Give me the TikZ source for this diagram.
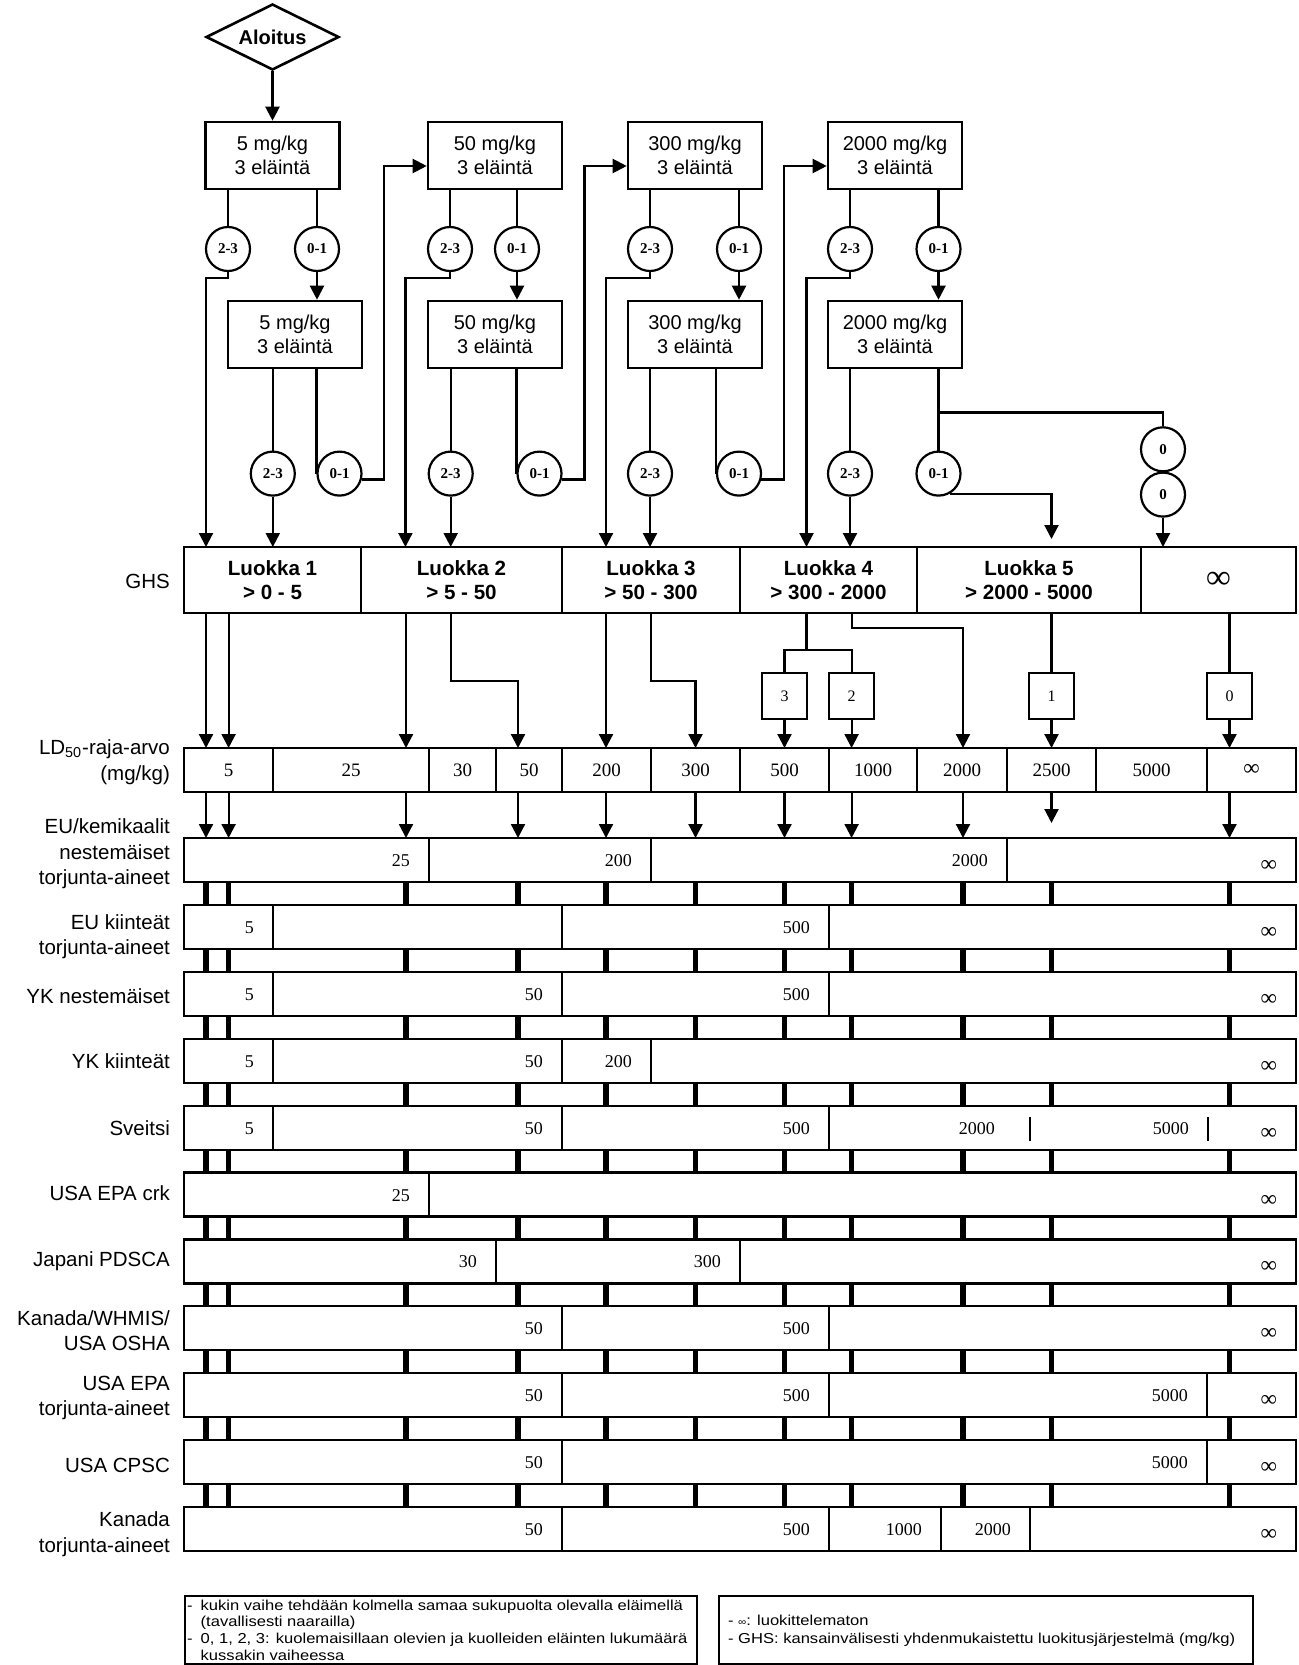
\documentclass[tikz,border=0pt]{standalone}
\usepackage{fontspec}
\usepackage{graphicx}
\setmainfont{Liberation Sans}
\newfontfamily\tnr{Liberation Serif}
\newfontfamily\legfont[FakeStretch=1.15]{Liberation Sans}
\usetikzlibrary{arrows.meta,shapes.geometric,calc}
\newcommand\infsym{\raisebox{-2.5pt}{\fontsize{11.5}{12}\selectfont ∞}}
\newcommand\rseg[5]{%
  \node[segbox,minimum width={(#3-#2)*0.5pt},anchor=north west] (#1) at (#2,#4) {};
  \node[valtext,anchor=base east] (#1v) at ($(#1.east)+(-18,6.5)$) {#5};}
\newcommand\rsegE[4]{%
  \node[segbox,minimum width={(#3-#2)*0.5pt},anchor=north west] (#1) at (#2,#4) {};}
\newcommand\gcell[7]{%
  \node[cellbox,#7,minimum width={(#3-#2)*0.5pt},minimum height={(#5-#4)*0.5pt},anchor=north west] (#1) at (#2,#4) {#6};}
\begin{document}
\begin{tikzpicture}[x=0.5pt,y=-0.5pt,line width=1.1pt,
  arr/.style={-{Triangle[length=7pt,width=7pt]}},
  stepbox/.style={draw,line width=1.3pt,minimum width=67pt,minimum height=33.5pt,inner sep=0pt,align=center,font=\fontsize{10}{12}\selectfont},
  cnt/.style={draw,circle,line width=1.1pt,minimum size=22pt,inner sep=0pt,font=\tnr\bfseries\fontsize{7.5}{8}\selectfont},
  cellbox/.style={draw,line width=1.3pt,inner sep=0pt,outer sep=0pt,align=center},
  ghsfont/.style={font=\bfseries\fontsize{10.3}{11.8}\selectfont},
  ldfont/.style={font=\tnr\fontsize{9.5}{10}\selectfont},
  segbox/.style={draw,line width=1.1pt,minimum height=22pt,inner sep=0pt,outer sep=0pt},
  valtext/.style={inner sep=0pt,font=\tnr\fontsize{9}{10}\selectfont},
  rowlab/.style={anchor=east,align=right,inner sep=0pt,font=\fontsize{10.25}{12.75}\selectfont},
  smallbox/.style={draw,line width=1.1pt,minimum width=22.75pt,minimum height=23pt,inner sep=0pt,font=\tnr\fontsize{8}{9}\selectfont},
  stub/.style={line width=2.6pt},
  legtext/.style={inner sep=0pt,align=left,font=\legfont\fontsize{7.2}{8.3}\selectfont}
]
\useasboundingbox (0,0) rectangle (1299,1665);

% ---------- flow chart ----------
\node[diamond,draw,line width=1.3pt,aspect=2,minimum width=66.5pt,minimum height=33pt,inner sep=0pt,font=\bfseries\fontsize{10}{12}\selectfont] (start) at (272.5,37) {Aloitus};

\node[stepbox] (b1) at (272.5,155.5) {5 mg/kg\\3 eläintä};
\node[stepbox] (b2) at (495,155.5) {50 mg/kg\\3 eläintä};
\node[stepbox] (b3) at (695,155.5) {300 mg/kg\\3 eläintä};
\node[stepbox] (b4) at (895,155.5) {2000 mg/kg\\3 eläintä};
\node[stepbox] (b1b) at (295,334.5) {5 mg/kg\\3 eläintä};
\node[stepbox] (b2b) at (495,334.5) {50 mg/kg\\3 eläintä};
\node[stepbox] (b3b) at (695,334.5) {300 mg/kg\\3 eläintä};
\node[stepbox] (b4b) at (895,334.5) {2000 mg/kg\\3 eläintä};

\node[cnt] (a1) at (228,249) {2-3};
\node[cnt] (z1) at (317,249) {0-1};
\node[cnt] (a2) at (450,249) {2-3};
\node[cnt] (z2) at (517,249) {0-1};
\node[cnt] (a3) at (650,249) {2-3};
\node[cnt] (z3) at (739,249) {0-1};
\node[cnt] (a4) at (850,249) {2-3};
\node[cnt] (z4) at (938.5,249) {0-1};

\node[cnt] (A1) at (272.8,473.6) {2-3};
\node[cnt] (Z1) at (339.5,473.6) {0-1};
\node[cnt] (A2) at (450.7,473.6) {2-3};
\node[cnt] (Z2) at (539.5,473.6) {0-1};
\node[cnt] (A3) at (650,473.6) {2-3};
\node[cnt] (Z3) at (739,473.6) {0-1};
\node[cnt] (A4) at (850,473.6) {2-3};
\node[cnt] (Z4) at (938.5,473.6) {0-1};
\node[cnt] (o1) at (1163,449.3) {0};
\node[cnt] (o2) at (1163,494.6) {0};

% ---------- GHS row ----------
\gcell{g1}{184}{361}{547}{613}{Luokka 1\\> 0 - 5}{ghsfont}
\gcell{g2}{361}{562}{547}{613}{Luokka 2\\> 5 - 50}{ghsfont}
\gcell{g3}{562}{740}{547}{613}{Luokka 3\\> 50 - 300}{ghsfont}
\gcell{g4}{740}{917}{547}{613}{Luokka 4\\> 300 - 2000}{ghsfont}
\gcell{g5}{917}{1141}{547}{613}{Luokka 5\\> 2000 - 5000}{ghsfont}
\gcell{g6}{1141}{1296}{547}{613}{\raisebox{-1.5pt}{\tnr\bfseries\fontsize{17}{18}\selectfont ∞}}{}
\node[rowlab] (ghslab) at (171,581) {GHS};

% connectors top part
\draw[arr] (start.south) -- (b1.north);
\foreach \b/\a/\z in {b1/a1/z1,b2/a2/z2,b3/a3/z3,b4/a4/z4}{
  \draw (\b.south -| \a) -- (\a.north);
  \draw (\b.south -| \z) -- (\z.north);
  \draw[arr] (\z.south) -- (\z.south |- \b b.north);
}
\draw[arr] (a1.south) |- (206,278) -- (206,0 |- g1.north);
\draw[arr] (a2.south) |- (405.4,278) -- (405.4,0 |- g2.north);
\draw[arr] (a3.south) |- (606,278) -- (606,0 |- g3.north);
\draw[arr] (a4.south) |- (806.5,278) -- (806.5,0 |- g4.north);

\draw (b1b.south -| A1) -- (A1.north);
\draw (b2b.south -| A2) -- (A2.north);
\draw (b3b.south -| A3) -- (A3.north);
\draw (b4b.south -| A4) -- (A4.north);
\draw (b1b.south -| Z1.west) -- (Z1.west);
\draw (b2b.south -| Z2.west) -- (Z2.west);
\draw (b3b.south -| Z3.west) -- (Z3.west);
\draw (b4b.south -| Z4) -- (Z4.north);
\draw[arr] (A1.south) -- (A1.south |- g1.north);
\draw[arr] (A2.south) -- (A2.south |- g2.north);
\draw[arr] (A3.south) -- (A3.south |- g3.north);
\draw[arr] (A4.south) -- (A4.south |- g4.north);
\draw[arr] (Z1.-15) -| (384,166) -- (b2.west |- 0,166);
\draw[arr] (Z2.-15) -| (584.4,166) -- (b3.west |- 0,166);
\draw[arr] (Z3.-15) -| (783.7,166) -- (b4.west |- 0,166);
\draw (Z4.north |- 0,412.5) -| (o1.north);
\draw (o1.south) -- (o2.north);
\draw[arr] (o2.south) -- (o2.south |- g6.north);
\draw[arr] (Z4.-60) -| (1051.5,539);

% ---------- LD50 row ----------
\gcell{l1}{184}{273}{748}{792}{5}{ldfont}
\gcell{l2}{273}{429}{748}{792}{25}{ldfont}
\gcell{l3}{429}{496}{748}{792}{30}{ldfont}
\gcell{l4}{496}{562}{748}{792}{50}{ldfont}
\gcell{l5}{562}{651}{748}{792}{200}{ldfont}
\gcell{l6}{651}{740}{748}{792}{300}{ldfont}
\gcell{l7}{740}{829}{748}{792}{500}{ldfont}
\gcell{l8}{829}{917}{748}{792}{1000}{ldfont}
\gcell{l9}{917}{1007}{748}{792}{2000}{ldfont}
\gcell{l10}{1007}{1096}{748}{792}{2500}{ldfont}
\gcell{l11}{1096}{1207}{748}{792}{5000}{ldfont}
\gcell{l12}{1207}{1296}{748}{792}{\raisebox{-1pt}{\infsym}}{ldfont}
\node[rowlab] (ldlab) at (171,762) {LD\textsubscript{50}-raja-arvo\\(mg/kg)};

\node[smallbox] (n3) at (784.5,696.3) {3};
\node[smallbox] (n2) at (851.6,696.3) {2};
\node[smallbox] (n1) at (1051.5,696.3) {1};
\node[smallbox] (n0) at (1229.5,696.3) {0};

% GHS -> LD50
\draw[arr] (206,0 |- g1.south) -- (206,0 |- l1.north);
\draw[arr] (228.6,0 |- g1.south) -- (228.6,0 |- l1.north);
\draw[arr] (406,0 |- g2.south) -- (406,0 |- l2.north);
\draw[arr] (451,0 |- g2.south) |- (518,680.7) -- (518,0 |- l4.north);
\draw[arr] (606,0 |- g3.south) -- (606,0 |- l5.north);
\draw[arr] (651,0 |- g3.south) |- (695.5,680.7) -- (695.5,0 |- l6.north);
\draw (806.5,0 |- g4.south) -- (806.5,650);
\draw (n3.north) |- (806.5,650) -| (n2.north);
\draw[arr] (851.6,0 |- g4.south) |- (963,628.3) -- (963,0 |- l9.north);
\draw[arr] (n3.south) -- (n3.south |- l7.north);
\draw[arr] (n2.south) -- (n2.south |- l8.north);
\draw (n1.north |- g5.south) -- (n1.north);
\draw[arr] (n1.south) -- (n1.south |- l10.north);
\draw (n0.north |- g6.south) -- (n0.north);
\draw[arr] (n0.south) -- (n0.south |- l12.north);

% ---------- classification rows ----------
\rseg{r0a}{184}{429}{838}{25}
\rseg{r0b}{429}{651}{838}{200}
\rseg{r0c}{651}{1007}{838}{2000}
\rseg{r0d}{1007}{1296}{838}{\infsym}
\rseg{r1a}{184}{273}{904.9}{5}
\rsegE{r1b}{273}{562}{904.9}
\rseg{r1c}{562}{829}{904.9}{500}
\rseg{r1d}{829}{1296}{904.9}{\infsym}
\rseg{r2a}{184}{273}{971.8}{5}
\rseg{r2b}{273}{562}{971.8}{50}
\rseg{r2c}{562}{829}{971.8}{500}
\rseg{r2d}{829}{1296}{971.8}{\infsym}
\rseg{r3a}{184}{273}{1038.7}{5}
\rseg{r3b}{273}{562}{1038.7}{50}
\rseg{r3c}{562}{651}{1038.7}{200}
\rseg{r3d}{651}{1296}{1038.7}{\infsym}
\rseg{r4a}{184}{273}{1105.6}{5}
\rseg{r4b}{273}{562}{1105.6}{50}
\rseg{r4c}{562}{829}{1105.6}{500}
\rseg{r4d}{829}{1296}{1105.6}{\infsym}
\node[valtext,anchor=base east] (sv2k) at (996,1134.1) {2000};
\node[valtext,anchor=base east] (sv5k) at (1190,1134.1) {5000};
\draw[line width=1.3pt] (1030,1117) -- (1030,1141);
\draw[line width=1.3pt] (1208,1117) -- (1208,1141);
\rseg{r5a}{184}{429}{1172.5}{25}
\rseg{r5b}{429}{1296}{1172.5}{\infsym}
\rseg{r6a}{184}{496}{1239.4}{30}
\rseg{r6b}{496}{740}{1239.4}{300}
\rseg{r6c}{740}{1296}{1239.4}{\infsym}
\rseg{r7a}{184}{562}{1306.3}{50}
\rseg{r7b}{562}{829}{1306.3}{500}
\rseg{r7c}{829}{1296}{1306.3}{\infsym}
\rseg{r8a}{184}{562}{1373.2}{50}
\rseg{r8b}{562}{829}{1373.2}{500}
\rseg{r8c}{829}{1207}{1373.2}{5000}
\rseg{r8d}{1207}{1296}{1373.2}{\infsym}
\rseg{r9a}{184}{562}{1440.1}{50}
\rseg{r9b}{562}{1207}{1440.1}{5000}
\rseg{r9c}{1207}{1296}{1440.1}{\infsym}
\rseg{r10a}{184}{562}{1507}{50}
\rseg{r10b}{562}{829}{1507}{500}
\rseg{r10c}{829}{941}{1507}{1000}
\rseg{r10d}{941}{1030}{1507}{2000}
\rseg{r10e}{1030}{1296}{1507}{\infsym}

% LD50 -> first row
\foreach \x in {206,228.6,406,518,606,695.5,784.5,851.6,963,1229.5}
  \draw[arr] (\x,0 |- l1.south) -- (\x,0 |- r0a.north);
\draw[arr] (1051.5,0 |- l1.south) -- (1051.5,823);

% stubs between rows
\foreach \t in {838,904.9,971.8,1038.7,1105.6,1172.5,1239.4,1306.3,1373.2,1440.1}{
  \pgfmathsetmacro\bb{\t+44}
  \pgfmathsetmacro\nn{\t+66.9}
  \foreach \x in {206,228.6,406,518,606,695.5,784.5,851.6,963,1051.5,1229.5}
    \draw[stub] (\x,\bb) -- (\x,\nn);
}

% row labels
\node[rowlab] (lab0) at (171,854) {EU/kemikaalit\\nestemäiset\\torjunta-aineet};
\node[rowlab] (lab1) at (171,936.5) {EU kiinteät\\torjunta-aineet};
\node[rowlab] (lab2) at (171,996.5) {YK nestemäiset};
\node[rowlab] (lab3) at (171,1061.5) {YK kiinteät};
\node[rowlab] (lab4) at (171,1128) {Sveitsi};
\node[rowlab] (lab5) at (171,1193.5) {USA EPA crk};
\node[rowlab] (lab6) at (171,1261.5) {Japani PDSCA};
\node[rowlab] (lab7) at (171,1330.5) {Kanada/WHMIS/\\USA OSHA};
\node[rowlab] (lab8) at (171,1398) {USA EPA\\torjunta-aineet};
\node[rowlab] (lab9) at (171,1465) {USA CPSC};
\node[rowlab] (lab10) at (171,1534) {Kanada\\torjunta-aineet};

% ---------- legend ----------
\node[draw,line width=1pt,minimum width=256pt,minimum height=34pt,inner sep=0pt,anchor=north west] (leg1) at (184,1595) {};
\node[draw,line width=1pt,minimum width=267pt,minimum height=34pt,inner sep=0pt,anchor=north west] (leg2) at (718,1595) {};
\node[legtext,anchor=west] (leg1t) at ($(leg1.west)+(2,0)$) {\makebox[6.8pt][l]{-}kukin vaihe tehdään kolmella samaa sukupuolta olevalla eläimellä\\\hspace*{6.8pt}(tavallisesti naarailla)\\\makebox[6.8pt][l]{-}0, 1, 2, 3: kuolemaisillaan olevien ja kuolleiden eläinten lukumäärä\\\hspace*{6.8pt}kussakin vaiheessa};
\node[legtext,anchor=west,font=\legfont\fontsize{7.2}{8.8}\selectfont] (leg2t) at ($(leg2.west)+(9,1)$) {- {\fontsize{5}{6}\selectfont ∞}: luokittelematon\\- GHS: kansainvälisesti yhdenmukaistettu luokitusjärjestelmä (mg/kg)};
\end{tikzpicture}
\end{document}
